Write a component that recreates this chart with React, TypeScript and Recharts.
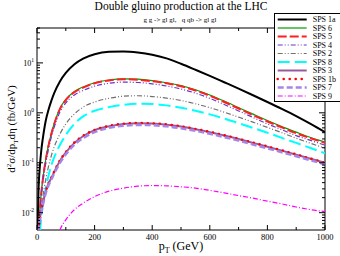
import React from 'react';
import { LineChart, Line, XAxis, YAxis, ReferenceArea, Legend } from 'recharts';

const W = 340;
const H = 256;
const PLOT_TOP = 28;
const PLOT_RIGHT = 325;
const SERIF = "'Liberation Serif', 'Times New Roman', serif";

// transverse momentum grid (GeV)
const pT = [2, 5, 10, 15, 20, 30, 40, 50, 60, 80, 100, 130, 160, 200, 250, 300, 350, 400, 450, 500, 550, 600, 650, 700, 750, 800, 850, 900, 950, 1000];

// d2sigma/dpT deta (fb/GeV)
const sps1a = [0.004, 0.025, 0.085, 0.18, 0.3, 0.68, 1.15, 1.75, 2.5, 4.3, 6.3, 9.4, 12.2, 14.9, 16.7, 17.0, 16.2, 14.6, 12.3, 9.6, 7.3, 5.5, 4.1, 3.05, 2.25, 1.65, 1.2, 0.86, 0.6, 0.41];
const sps6 = [0.0009, 0.0032, 0.0115, 0.026, 0.047, 0.115, 0.23, 0.39, 0.62, 1.24, 1.85, 2.68, 3.3, 4.0, 4.55, 4.8, 4.72, 4.42, 4.0, 3.5, 2.9, 2.28, 1.72, 1.27, 0.94, 0.7, 0.53, 0.41, 0.32, 0.26];
const sps5 = [0.0008, 0.003, 0.011, 0.025, 0.045, 0.11, 0.22, 0.38, 0.6, 1.2, 1.8, 2.6, 3.2, 3.9, 4.45, 4.7, 4.6, 4.3, 3.9, 3.4, 2.8, 2.2, 1.65, 1.22, 0.9, 0.67, 0.51, 0.39, 0.31, 0.25];
const sps4 = [0.0007, 0.0026, 0.0095, 0.022, 0.04, 0.096, 0.19, 0.33, 0.52, 1.05, 1.58, 2.28, 2.8, 3.42, 3.9, 4.12, 4.05, 3.8, 3.45, 3.0, 2.48, 1.95, 1.47, 1.09, 0.81, 0.6, 0.46, 0.35, 0.28, 0.225];
const sps2 = [0.0006, 0.002, 0.006, 0.012, 0.02, 0.045, 0.085, 0.14, 0.21, 0.38, 0.6, 0.95, 1.3, 1.65, 1.95, 2.15, 2.2, 2.12, 1.97, 1.77, 1.52, 1.27, 1.03, 0.82, 0.65, 0.51, 0.4, 0.31, 0.245, 0.195];
const sps8 = [0.0004, 0.0014, 0.004, 0.008, 0.014, 0.03, 0.055, 0.09, 0.13, 0.23, 0.36, 0.6, 0.85, 1.1, 1.3, 1.45, 1.52, 1.5, 1.41, 1.27, 1.1, 0.93, 0.77, 0.62, 0.5, 0.4, 0.315, 0.25, 0.197, 0.155];
const sps3 = [0.002, 0.004, 0.0075, 0.011, 0.015, 0.026, 0.038, 0.05, 0.066, 0.11, 0.16, 0.25, 0.34, 0.45, 0.54, 0.6, 0.62, 0.61, 0.58, 0.53, 0.47, 0.41, 0.35, 0.3, 0.25, 0.21, 0.175, 0.145, 0.12, 0.1];
const sps1b = [0.002, 0.004, 0.0076, 0.0112, 0.0153, 0.0265, 0.039, 0.051, 0.067, 0.112, 0.163, 0.255, 0.345, 0.455, 0.545, 0.605, 0.625, 0.615, 0.585, 0.535, 0.475, 0.415, 0.355, 0.302, 0.252, 0.212, 0.177, 0.147, 0.121, 0.1];
const sps7 = [0.0018, 0.0037, 0.0069, 0.01, 0.0138, 0.024, 0.035, 0.046, 0.061, 0.1, 0.147, 0.23, 0.31, 0.41, 0.5, 0.55, 0.57, 0.565, 0.535, 0.49, 0.435, 0.38, 0.325, 0.277, 0.232, 0.194, 0.162, 0.135, 0.112, 0.093];
const sps9 = [0.000005, 0.00002, 0.00005, 0.0001, 0.0002, 0.0004, 0.0008, 0.0014, 0.0022, 0.0046, 0.0072, 0.0115, 0.0155, 0.021, 0.027, 0.031, 0.034, 0.035, 0.0345, 0.033, 0.031, 0.028, 0.025, 0.022, 0.0195, 0.017, 0.015, 0.013, 0.0115, 0.0105];

const xTicks = [0, 100, 200, 300, 400, 500, 600, 700, 800, 900, 1000];
const xLabelTicks = [0, 200, 400, 600, 800, 1000];
const yTicks = [
  0.005, 0.006, 0.007, 0.008, 0.009,
  0.01, 0.02, 0.03, 0.04, 0.05, 0.06, 0.07, 0.08, 0.09,
  0.1, 0.2, 0.3, 0.4, 0.5, 0.6, 0.7, 0.8, 0.9,
  1, 2, 3, 4, 5, 6, 7, 8, 9,
  10, 20, 30, 40, 50,
];
const yMajor = [0.01, 0.1, 1, 10];
const yExp = ['-2', '-1', '0', '1'];

const SERIES = [
  { key: 'sps1a', name: 'SPS 1a', values: sps1a, color: '#000000', width: 2 },
  { key: 'sps6', name: 'SPS 6', values: sps6, color: '#00a000', width: 1.2 },
  { key: 'sps5', name: 'SPS 5', values: sps5, color: '#ff2020', width: 2, dash: '9 3' },
  { key: 'sps4', name: 'SPS 4', values: sps4, color: '#6a35c8', width: 1.2, dash: '5 2 1 2 1 2' },
  { key: 'sps2', name: 'SPS 2', values: sps2, color: '#707070', width: 1.2, dash: '5 2 1 2 1 2' },
  { key: 'sps8', name: 'SPS 8', values: sps8, color: '#00ffff', width: 2, dash: '12 5' },
  { key: 'sps3', name: 'SPS 3', values: sps3, color: '#9b5b9b', width: 2 },
  { key: 'sps1b', name: 'SPS 1b', values: sps1b, color: '#ff0000', width: 2.6, dash: '0 6', cap: 'round' },
  { key: 'sps7', name: 'SPS 7', values: sps7, color: '#a585e8', width: 2.4, dash: '6 3' },
  { key: 'sps9', name: 'SPS 9', values: sps9, color: '#ff00ff', width: 1.2, dash: '5 2 1 2' },
];

const data = pT.map((p, i) => {
  const row: any = { pT: p };
  SERIES.forEach((s) => {
    row[s.key] = s.values[i];
  });
  return row;
});

const XTick = (props: any) => {
  const { x, y, payload } = props;
  const major = xLabelTicks.includes(payload.value);
  const len = major ? 5 : 3;
  return (
    <g>
      <line x1={x} x2={x} y1={y} y2={y - len} stroke="#000" />
      <line x1={x} x2={x} y1={PLOT_TOP} y2={PLOT_TOP + len} stroke="#000" />
      {major && (
        <text x={x} y={y + 10} textAnchor="middle" fontSize={8.5} fontFamily={SERIF} fill="#000">
          {payload.value}
        </text>
      )}
    </g>
  );
};

const YTick = (props: any) => {
  const { x, y, payload } = props;
  const idx = yMajor.indexOf(payload.value);
  const major = idx >= 0;
  const len = major ? 6 : 3;
  return (
    <g>
      <line x1={x} x2={x + len} y1={y} y2={y} stroke="#000" />
      <line x1={PLOT_RIGHT} x2={PLOT_RIGHT - len} y1={y} y2={y} stroke="#000" />
      {major && (
        <text x={x - 3} y={y + 3.5} textAnchor="end" fontSize={8} fontFamily={SERIF} fill="#000">
          10
          <tspan dy={-4} fontSize={5.5}>{yExp[idx]}</tspan>
        </text>
      )}
    </g>
  );
};

const LegendBox = () => (
  <svg width={66} height={89} style={{ display: 'block' }}>
    <rect x={0.5} y={0.5} width={67} height={88} fill="#fff" stroke="#000" />
    {SERIES.map((s, i) => {
      const y = 6.5 + i * 8.5;
      return (
        <g key={s.key}>
          <line x1={3.7} x2={32.7} y1={y} y2={y} stroke={s.color} strokeWidth={s.width}
            strokeDasharray={s.dash} strokeLinecap={(s as any).cap || 'butt'} />
          <text x={38.7} y={y + 2.7} fontSize={8} fontFamily={SERIF} fill="#000">{s.name}</text>
        </g>
      );
    })}
  </svg>
);

export default function App() {
  return (
    <div style={{ position: 'absolute', left: 0, top: 0, width: W, height: H, background: '#fff' }}>
      <LineChart width={W} height={H} data={data} margin={{ top: PLOT_TOP, right: W - PLOT_RIGHT, bottom: 0, left: 0 }}>
        <XAxis dataKey="pT" type="number" domain={[0, 1000]} ticks={xTicks} interval={0}
          height={26} tickSize={0} tickMargin={0} axisLine={false} tickLine={false} tick={<XTick />} allowDataOverflow />
        <YAxis type="number" scale="log" domain={[0.0045, 50]} ticks={yTicks} interval={0}
          width={37} tickSize={0} tickMargin={0} axisLine={false} tickLine={false} tick={<YTick />} allowDataOverflow />
        <ReferenceArea x1={0} x2={1000} y1={0.0045} y2={50} fill="none" fillOpacity={0} stroke="#000" strokeWidth={1} ifOverflow="visible" />
        {SERIES.map((s) => (
          <Line key={s.key} dataKey={s.key} name={s.name} type="monotone" stroke={s.color} strokeWidth={s.width}
            strokeDasharray={s.dash} strokeLinecap={(s as any).cap || 'butt'} dot={false} activeDot={false}
            isAnimationActive={false} />
        ))}
        <Legend layout="vertical" align="center" verticalAlign="middle" content={<LegendBox />}
          wrapperStyle={{ position: 'absolute', left: 274, top: 13, width: 66, height: 89 }} />
      </LineChart>
      <svg width={W} height={H} style={{ position: 'absolute', left: 0, top: 0, pointerEvents: 'none' }}>
        <text x={181} y={10} textAnchor="middle" fontSize={11.5} fontFamily={SERIF} fill="#000">
          Double gluino production at the LHC
        </text>
        <text x={180} y={21.5} textAnchor="middle" fontSize={7} fontFamily={SERIF} fill="#000" style={{ whiteSpace: 'pre' }}>
          {'g g -> gl gl,   q qb -> gl gl'}
        </text>
        <text x={181} y={249.5} textAnchor="middle" fontSize={12} fontFamily={SERIF} fill="#000">
          p<tspan dy={3} fontSize={8}>T</tspan><tspan dy={-3}> (GeV)</tspan>
        </text>
        <text x={14.5} y={129} transform="rotate(-90 14.5 129)" textAnchor="middle" fontSize={11} fontFamily={SERIF} fill="#000">
          d<tspan dy={-4} fontSize={7}>2</tspan><tspan dy={4}>σ/dp</tspan><tspan dy={3} fontSize={7}>T</tspan><tspan dy={-3}>dη (fb/GeV)</tspan>
        </text>
      </svg>
    </div>
  );
}
